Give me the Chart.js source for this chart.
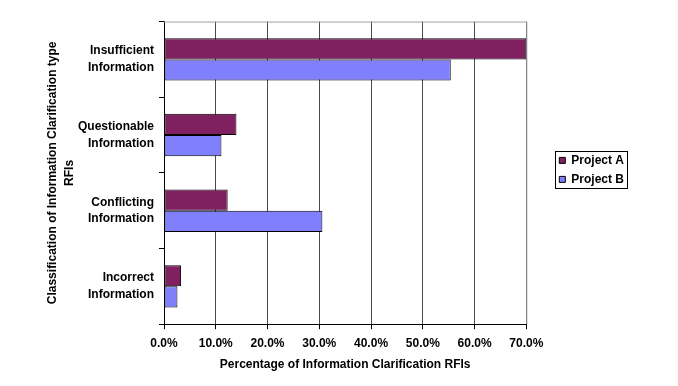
<!DOCTYPE html>
<html>
<head>
<meta charset="utf-8">
<script src="https://cdn.jsdelivr.net/npm/chart.js@4.4.1/dist/chart.umd.min.js"></script>
<style>
    html, body { margin: 0; padding: 0; background: #fff; }
    #wrap { width: 678px; height: 386px; }
</style>
</head>
<body>
<div id="wrap"><canvas id="chart" width="678" height="386"></canvas></div>
<script>
// Categories (top to bottom)
const categories = [
    ['Insufficient', 'Information'],
    ['Questionable', 'Information'],
    ['Conflicting', 'Information'],
    ['Incorrect', 'Information'],
];

// Percentage of information clarification RFIs
const projectA = [70.0, 14.0, 12.3, 3.3];
const projectB = [55.4, 11.1, 30.6, 2.6];

const xTicks = [0, 10, 20, 30, 40, 50, 60, 70];

const colors = {
    projectA: '#802060',
    projectB: '#8080FF',
    grid: '#4a4a4a',
    frame: '#a0a0a0',
};

const font = { family: 'Liberation Sans, Arial, sans-serif', size: 12, weight: 'bold' };
const font2 = { ...font, lineHeight: 1.38 };

// Grey frame round the plot area, like the Excel original
const plotFrame = {
    id: 'plotFrame',
    beforeDatasetsDraw(chart) {
        const { ctx, chartArea: a } = chart;
        ctx.save();
        ctx.strokeStyle = colors.frame;
        ctx.lineWidth = 1;
        ctx.beginPath();
        ctx.moveTo(a.left, a.top + 0.5);
        ctx.lineTo(a.right + 0.5, a.top + 0.5);
        ctx.lineTo(a.right + 0.5, a.bottom);
        ctx.stroke();
        ctx.restore();
    },
};

// Box round the legend items
const legendBox = {
    id: 'legendBox',
    afterDraw(chart) {
        const boxes = chart.legend && chart.legend.legendHitBoxes;
        if (!boxes || !boxes.length) return;
        const left = Math.min(...boxes.map(b => b.left)) - 4;
        const right = Math.max(...boxes.map(b => b.left + b.width)) + 3;
        const top = Math.min(...boxes.map(b => b.top)) - 3;
        const bottom = Math.max(...boxes.map(b => b.top + b.height)) + 3;
        const { ctx } = chart;
        ctx.save();
        ctx.strokeStyle = '#000';
        ctx.lineWidth = 1;
        ctx.strokeRect(Math.round(left) + 0.5, Math.round(top) + 0.5, Math.round(right - left), Math.round(bottom - top));
        ctx.restore();
    },
};

const barStyle = {
    borderColor: '#000',
    borderWidth: 1,
    borderSkipped: false,
    categoryPercentage: 0.56,
    barPercentage: 1,
};

new Chart(document.getElementById('chart'), {
    type: 'bar',
    data: {
        labels: categories,
        datasets: [
            { label: 'Project A', data: projectA, backgroundColor: colors.projectA, ...barStyle },
            { label: 'Project B', data: projectB, backgroundColor: colors.projectB, ...barStyle },
        ],
    },
    options: {
        indexAxis: 'y',
        responsive: false,
        animation: false,
        layout: {
            padding: { left: 44, right: 44, top: 20, bottom: 14 },
        },
        plugins: {
            tooltip: { enabled: false },
            legend: {
                position: 'right',
                align: 'start',
                // empty title only pushes the items down to mid height
                title: { display: true, text: '', font, padding: { top: 113, bottom: 0 } },
                labels: {
                    color: '#000',
                    font,
                    boxWidth: 6,
                    boxHeight: 6,
                    padding: 7,
                    generateLabels(chart) {
                        return chart.data.datasets.map((ds, i) => ({
                            text: ds.label,
                            fillStyle: ds.backgroundColor,
                            strokeStyle: '#000',
                            lineWidth: 1,
                            datasetIndex: i,
                            fontColor: '#000',
                        }));
                    },
                },
            },
        },
        scales: {
            x: {
                min: 0,
                max: 70,
                afterBuildTicks(axis) {
                    axis.ticks = xTicks.map(v => ({ value: v }));
                },
                grid: {
                    color: colors.grid,
                    lineWidth: 1,
                    drawTicks: true,
                    tickLength: 5,
                    tickColor: '#000',
                },
                border: { color: '#000', width: 1 },
                ticks: {
                    color: '#000',
                    font,
                    padding: 7,
                    maxRotation: 0,
                    callback: v => v.toFixed(1) + '%',
                },
                title: {
                    display: true,
                    text: 'Percentage of Information Clarification RFIs',
                    color: '#000',
                    font,
                    padding: { top: 0, bottom: 0 },
                },
            },
            y: {
                grid: {
                    drawOnChartArea: false,
                    drawTicks: true,
                    tickLength: 5,
                    color: '#000',
                    offset: true,
                },
                border: { color: '#000', width: 1 },
                ticks: {
                    color: '#000',
                    font: font2,
                    padding: 5,
                },
                title: {
                    display: true,
                    text: ['Classification of Information Clarification type', 'RFIs'],
                    color: '#000',
                    font: { ...font, lineHeight: 1.4 },
                    padding: { top: 0, bottom: 6 },
                },
                afterFit(axis) {
                    axis.width = 120;
                },
            },
            // empty spacer between the plot area and the legend
            gap: {
                type: 'linear',
                position: 'right',
                display: true,
                grid: { display: false, drawTicks: false },
                border: { display: false },
                ticks: { display: false },
                afterFit(axis) {
                    axis.width = 26;
                },
            },
        },
    },
    plugins: [plotFrame, legendBox],
});
</script>
</body>
</html>
